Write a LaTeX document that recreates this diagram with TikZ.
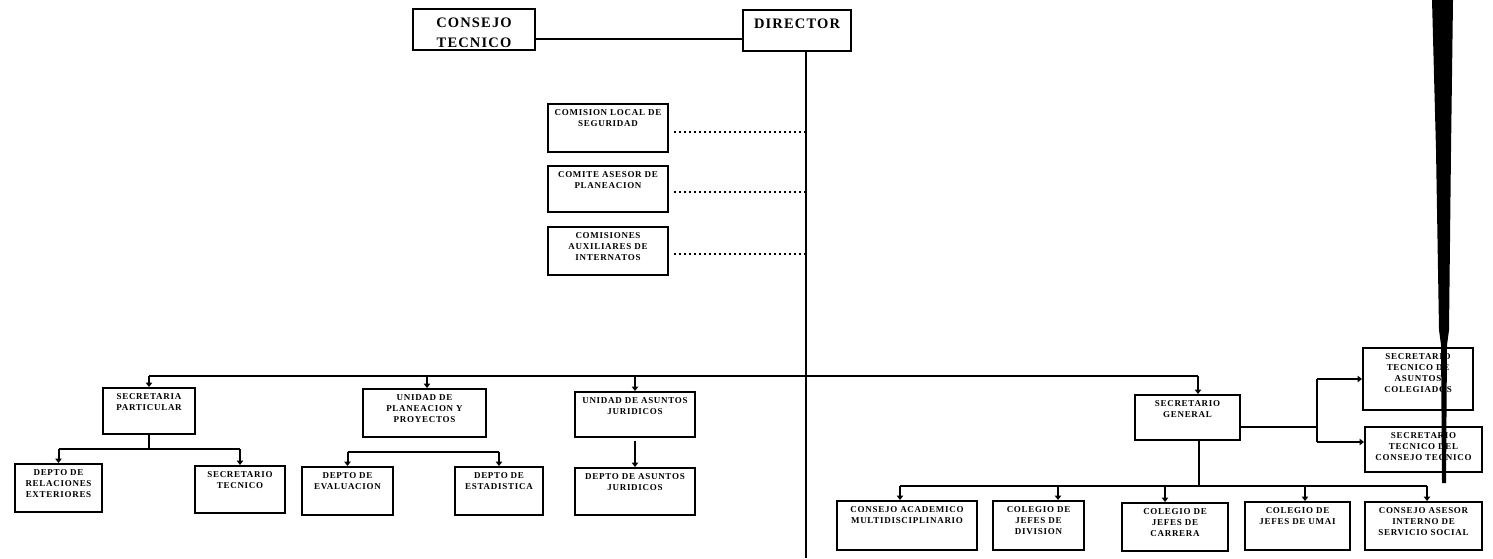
\documentclass[tikz,border=0pt]{standalone}
\usepackage{fontspec}
\setmainfont{Liberation Serif}
\newfontfamily\topfont[LetterSpace=8]{Liberation Serif}
\newfontfamily\boxfont[LetterSpace=8]{Liberation Serif}
\usetikzlibrary{arrows.meta,fit}
\tikzset{
  obox/.style={draw, line width=2pt, inner sep=0pt},
  lbl/.style={anchor=north, align=center, inner sep=0pt, yshift=-6.5pt,
    font=\boxfont\bfseries\fontsize{9}{10.8}\selectfont},
  toplbl/.style={anchor=north, align=center, inner sep=0pt, yshift=-10pt,
    font=\topfont\bfseries\fontsize{14.5}{19.5}\selectfont},
  ln/.style={line width=2pt},
  arr/.style={line width=2pt, -{Triangle[width=6.5pt,length=4.5pt]}},
  dots/.style={line width=1.5pt, dash pattern=on 1.5pt off 3.5pt},
}
\newcommand\orgbox[7][lbl]{%
  \node[obox, fit={(#3,#4)(#5,#6)}, label={[#1]north:{#7}}] (#2) {};}
\begin{document}
\begin{tikzpicture}[x=1pt,y=-1pt]
\useasboundingbox (0,0) rectangle (1493,558);
% top
\orgbox[toplbl]{ct}{413}{9}{535}{50}{CONSEJO\\TECNICO}
\orgbox[toplbl]{dir}{743}{10}{851}{51}{DIRECTOR}
% staff committees
\orgbox{c1}{548}{104}{668}{152}{COMISION LOCAL DE\\SEGURIDAD}
\orgbox{c2}{548}{166}{668}{212}{COMITE ASESOR DE\\PLANEACION}
\orgbox{c3}{548}{227}{668}{275}{COMISIONES\\AUXILIARES DE\\INTERNATOS}
% second level
\orgbox{sp}{103}{388}{195}{434}{SECRETARIA\\PARTICULAR}
\orgbox{upp}{363}{389}{486}{437}{UNIDAD DE\\PLANEACION Y\\PROYECTOS}
\orgbox{uaj}{575}{392}{695}{437}{UNIDAD DE ASUNTOS\\JURIDICOS}
\orgbox{sg}{1135}{395}{1240}{440}{SECRETARIO\\GENERAL}
\orgbox{stac}{1363}{348}{1473}{410}{SECRETARIO\\TECNICO DE\\ASUNTOS\\COLEGIADOS}
\orgbox{stct}{1365}{427}{1482}{472}{SECRETARIO\\TECNICO DEL\\CONSEJO TECNICO}
% third level
\orgbox{dre}{15}{464}{102}{512}{DEPTO DE\\RELACIONES\\EXTERIORES}
\orgbox{st}{195}{466}{285}{513}{SECRETARIO\\TECNICO}
\orgbox{dev}{302}{467}{393}{515}{DEPTO DE\\EVALUACION}
\orgbox{des}{455}{467}{543}{515}{DEPTO DE\\ESTADISTICA}
\orgbox{daj}{575}{468}{695}{515}{DEPTO DE ASUNTOS\\JURIDICOS}
\orgbox{cam}{837}{501}{977}{550}{CONSEJO ACADEMICO\\MULTIDISCIPLINARIO}
\orgbox{cjd}{993}{501}{1084}{550}{COLEGIO DE\\JEFES DE\\DIVISION}
\orgbox{cjc}{1122}{503}{1228}{551}{COLEGIO DE\\JEFES DE\\CARRERA}
\orgbox{umai}{1245}{502}{1350}{550}{COLEGIO DE\\JEFES DE UMAI}
\orgbox{caiss}{1365}{502}{1482}{550}{CONSEJO ASESOR\\INTERNO DE\\SERVICIO SOCIAL}
% coordinates
\coordinate (bot) at (806,558);
\coordinate (bus) at (0,376);
\coordinate (spb) at (0,449);
\coordinate (uppb) at (0,452);
\coordinate (sgb) at (0,486);
\coordinate (brk) at (1317,0);
% top connectors
\draw[ln] ([yshift=-9.5pt]ct.east) -- ([yshift=-9.5pt]ct.east -| dir.west);
\draw[ln] ([xshift=9pt]dir.south) -- (bot);
\draw[dots] ([xshift=5pt,yshift=-4pt]c1.east) -- ([yshift=-4pt]c1.east -| bot);
\draw[dots] ([xshift=5pt,yshift=-3pt]c2.east) -- ([yshift=-3pt]c2.east -| bot);
\draw[dots] ([xshift=5pt,yshift=-3pt]c3.east) -- ([yshift=-3pt]c3.east -| bot);
% main bus
\draw[ln] (sp.north |- bus) -- ([xshift=10.5pt]sg.north |- bus);
\draw[arr] (sp.north |- bus) -- (sp.north);
\draw[arr] ([xshift=2.5pt]upp.north |- bus) -- ([xshift=2.5pt]upp.north);
\draw[arr] (uaj.north |- bus) -- (uaj.north);
\draw[arr] ([xshift=10.5pt]sg.north |- bus) -- ([xshift=10.5pt]sg.north);
% secretaria particular
\draw[ln] (sp.south) -- (sp.south |- spb);
\draw[ln] (dre.north |- spb) -- (st.north |- spb);
\draw[arr] (dre.north |- spb) -- (dre.north);
\draw[arr] (st.north |- spb) -- (st.north);
% planeacion
\draw[ln] (dev.north |- uppb) -- (des.north |- uppb);
\draw[arr] (dev.north |- uppb) -- (dev.north);
\draw[arr] (des.north |- uppb) -- (des.north);
% juridicos
\draw[arr, line width=1.2pt] ([yshift=-3pt]uaj.south) -- (daj.north);
% secretario general
\draw[ln] ([xshift=11pt]sg.south) -- ([xshift=11pt]sg.south |- sgb);
\draw[ln] ([xshift=-7pt]cam.north |- sgb) -- ([xshift=3.5pt]caiss.north |- sgb);
\draw[arr] ([xshift=-7pt]cam.north |- sgb) -- ([xshift=-7pt]cam.north);
\draw[arr] ([xshift=19.5pt]cjd.north |- sgb) -- ([xshift=19.5pt]cjd.north);
\draw[arr] ([xshift=-10pt]cjc.north |- sgb) -- ([xshift=-10pt]cjc.north);
\draw[arr] ([xshift=7.5pt]umai.north |- sgb) -- ([xshift=7.5pt]umai.north);
\draw[arr] ([xshift=3.5pt]caiss.north |- sgb) -- ([xshift=3.5pt]caiss.north);
\draw[ln] ([yshift=-9.5pt]sg.east) -- ([yshift=-9.5pt]sg.east -| brk);
\draw[ln] (brk |- stac.west) -- (brk |- 0,442);
\draw[arr] (brk |- stac.west) -- (stac.west);
\draw[arr] (brk |- 0,442) -- (stct.west |- 0,442);
% scanner streak
\fill (1432,0) -- (1453,0) -- (1451,150) -- (1449,330) -- (1447,345)
  -- (1446,483) -- (1442,483) -- (1441,345) -- (1439,330) -- (1436,150) -- cycle;
\end{tikzpicture}
\end{document}
